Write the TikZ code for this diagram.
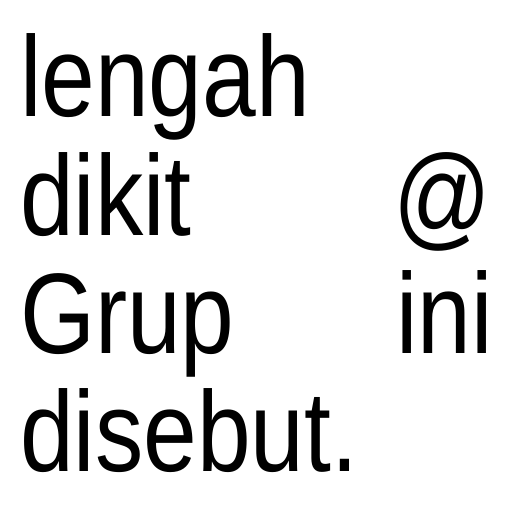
\documentclass[tikz,border=0pt]{standalone}
\usepackage{fontspec}
\setmainfont{Liberation Sans}
\begin{document}
\begin{tikzpicture}[x=1pt,y=1pt,
  word/.style={inner sep=0pt,outer sep=0pt,font=\fontsize{114.5}{118}\selectfont}]
\useasboundingbox[fill=white] (0,0) rectangle (512,512);
\newcommand{\sq}[1]{\scalebox{0.843}[1]{#1}}
\node[word,anchor=base west] (w1) at (20,395) {\sq{lengah}};
\node[word,anchor=base west] (w2) at (20,276) {\sq{dikit}};
\node[word,anchor=base east] (w3) at (491,276) {\sq{@}};
\node[word,anchor=base west] (w4) at (20,158) {\sq{Grup}};
\node[word,anchor=base east] (w5) at (493,158) {\sq{ini}};
\node[word,anchor=base west] (w6) at (20,40) {\sq{disebut.}};
\end{tikzpicture}
\end{document}
